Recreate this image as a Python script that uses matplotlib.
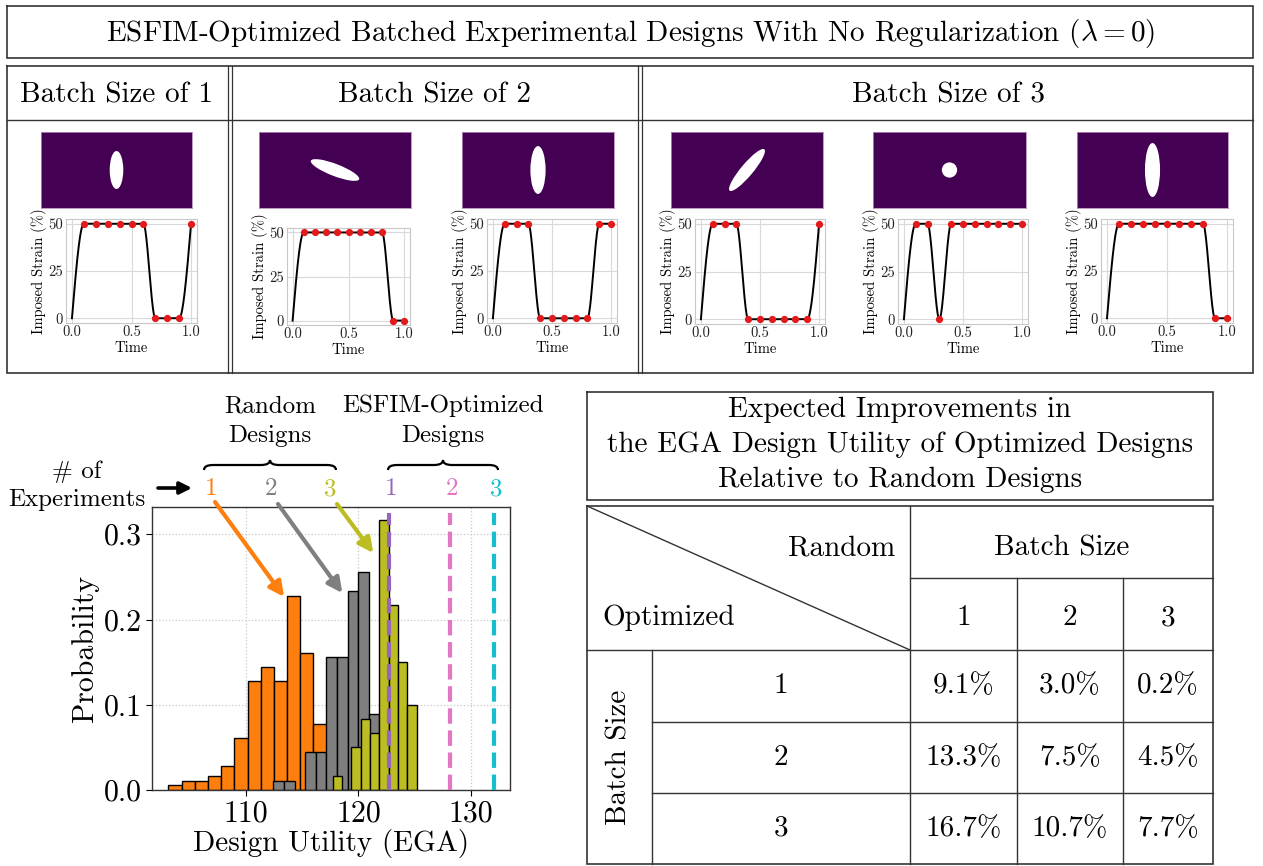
import numpy as np
import matplotlib
matplotlib.use("Agg")
import matplotlib.pyplot as plt
from matplotlib.patches import Ellipse
from matplotlib.path import Path
from matplotlib.patches import PathPatch
from matplotlib.transforms import blended_transform_factory

plt.rcParams["font.family"] = "serif"
plt.rcParams["font.serif"] = ["cmr10"]
plt.rcParams["mathtext.fontset"] = "cm"
plt.rcParams["axes.formatter.use_mathtext"] = True

# ---------------- data ----------------
batch_titles = ["Batch Size of 1", "Batch Size of 2", "Batch Size of 3"]

strain_times = [0.0, 0.1, 0.2, 0.3, 0.4, 0.5, 0.6, 0.7, 0.8, 0.9, 1.0]
strain_b1 = [0, 50, 50, 50, 50, 50, 50, 0, 0, 0, 50]
strain_b2_1 = [0, 50, 50, 50, 50, 50, 50, 50, 50, 0, 0]
strain_b2_2 = [0, 50, 50, 50, 0, 0, 0, 0, 0, 50, 50]
strain_b3_1 = [0, 50, 50, 50, 0, 0, 0, 0, 0, 0, 50]
strain_b3_2 = [0, 50, 50, 0, 50, 50, 50, 50, 50, 50, 50]
strain_b3_3 = [0, 50, 50, 50, 50, 50, 50, 50, 50, 0, 0]

# hole shape per design: (width, height, angle in degrees) on a 2 x 1 specimen
hole_b1 = (0.18, 0.50, 0)
hole_b2_1 = (0.68, 0.16, -21)
hole_b2_2 = (0.20, 0.63, 0)
hole_b3_1 = (0.71, 0.16, 50)
hole_b3_2 = (0.20, 0.20, 0)
hole_b3_3 = (0.20, 0.71, 0)

# histograms of design utility for random designs (probability per bin)
rand1_start, rand1_width = 103.16, 1.169
rand1_probs = [0.0056, 0.0111, 0.0111, 0.0167, 0.0278, 0.0611,
               0.1278, 0.1444, 0.1278, 0.2278, 0.1611, 0.0778]
rand2_start, rand2_width = 112.47, 0.939
rand2_probs = [0.0111, 0.0111, 0.0, 0.0444, 0.0444, 0.1556,
               0.1556, 0.2333, 0.2556, 0.0889]
rand3_start, rand3_width = 117.73, 0.827
rand3_probs = [0.0167, 0.0, 0.05, 0.0833, 0.0667, 0.3167,
               0.2167, 0.15, 0.1]
# utilities of the optimized designs for batch sizes 1, 2, 3
opt_utility = [122.74, 128.1, 132.0]

rand_colors = ["#ff7f0e", "#7f7f7f", "#bcbd22"]
opt_colors = ["#9467bd", "#e377c2", "#17becf"]

batch_sizes = ["1", "2", "3"]
improvement = [[9.1, 3.0, 0.2],
               [13.3, 7.5, 4.5],
               [16.7, 10.7, 7.7]]

# ---------------- figure ----------------
W, H = 1263, 866
fig = plt.figure(figsize=(W / 100, H / 100), dpi=100)
BIG = 21
MID = 18
SMALL = 10.5


def rect(x0, y0, x1, y1):
    return [x0 / W, 1 - y1 / H, (x1 - x0) / W, (y1 - y0) / H]


ov = fig.add_axes([0, 0, 1, 1], zorder=-1)
ov.set_xlim(0, W)
ov.set_ylim(H, 0)
ov.axis("off")

LC = "#333333"


def box(x0, y0, x1, y1, lw=1.2):
    ov.plot([x0, x1, x1, x0, x0], [y0, y0, y1, y1, y0], color=LC, lw=lw,
            solid_joinstyle="miter")


def hline(x0, x1, y, lw=1.0):
    ov.plot([x0, x1], [y, y], color=LC, lw=lw)


def vline(x, y0, y1, lw=1.0):
    ov.plot([x, x], [y0, y1], color=LC, lw=lw)


# title box
box(7, 6, 1253, 58)
ov.text(630, 34, r"ESFIM-Optimized Batched Experimental Designs With No Regularization ($\lambda = 0$)",
        ha="center", va="center", fontsize=BIG)

# design panel frame
box(7, 66, 1253, 373)
hline(7, 1253, 120)
for x in (227.5, 231.5, 638, 642):
    vline(x, 66, 373, lw=0.9)
for title, xc in zip(batch_titles, (117, 435, 948)):
    ov.text(xc, 95, title, ha="center", va="center", fontsize=BIG)


def pchip(x, y, xs):
    x = np.asarray(x, float)
    y = np.asarray(y, float)
    h = np.diff(x)
    delta = np.diff(y) / h
    n = len(x)
    d = np.zeros(n)
    for k in range(1, n - 1):
        if delta[k - 1] * delta[k] > 0:
            w1 = 2 * h[k] + h[k - 1]
            w2 = h[k] + 2 * h[k - 1]
            d[k] = (w1 + w2) / (w1 / delta[k - 1] + w2 / delta[k])

    def end(h0, h1, d0, d1):
        dd = ((2 * h0 + h1) * d0 - h0 * d1) / (h0 + h1)
        if np.sign(dd) != np.sign(d0):
            dd = 0.0
        elif np.sign(d0) != np.sign(d1) and abs(dd) > abs(3 * d0):
            dd = 3 * d0
        return dd

    d[0] = end(h[0], h[1], delta[0], delta[1])
    d[-1] = end(h[-1], h[-2], delta[-1], delta[-2])
    idx = np.clip(np.searchsorted(x, xs) - 1, 0, n - 2)
    t = (xs - x[idx]) / h[idx]
    h00 = 2 * t**3 - 3 * t**2 + 1
    h10 = t**3 - 2 * t**2 + t
    h01 = -2 * t**3 + 3 * t**2
    h11 = t**3 - t**2
    return (h00 * y[idx] + h10 * h[idx] * d[idx]
            + h01 * y[idx + 1] + h11 * h[idx] * d[idx + 1])


def specimen(px, hole):
    ax = fig.add_axes(rect(*px))
    ax.set_facecolor("#440154")
    ax.set_xlim(0, 2)
    ax.set_ylim(0, 1)
    ax.set_xticks([])
    ax.set_yticks([])
    for s in ax.spines.values():
        s.set_color("#b58ab8")
        s.set_linewidth(0.6)
    w, hh, ang = hole
    ax.add_patch(Ellipse((1.0, 0.5), w, hh, angle=ang, facecolor="white",
                         edgecolor="none"))


def strain_plot(px, values):
    ax = fig.add_axes(rect(*px))
    ts = np.linspace(0, 1, 400)
    ax.plot(ts, pchip(strain_times, values, ts), color="black", lw=1.4)
    ax.plot(strain_times[1:], values[1:], "o", color="#e31a1c", ms=4.2,
            zorder=3)
    ax.set_xticks([0, 0.5, 1.0])
    ax.set_yticks([0, 25, 50])
    ax.set_xticklabels(["0.0", "0.5", "1.0"])
    ax.set_yticklabels(["0", "25", "50"])
    ax.tick_params(length=0, labelsize=SMALL, pad=2, colors="#222222")
    ax.grid(color="#d9d9d9", lw=0.8)
    ax.set_axisbelow(True)
    for s in ax.spines.values():
        s.set_color("#c8c8c8")
        s.set_linewidth(0.8)
    ax.set_xlabel("Time", fontsize=SMALL, labelpad=1)
    ax.set_ylabel("Imposed Strain (%)", fontsize=SMALL, labelpad=1)


panels = [
    ((41, 132, 192, 208), hole_b1, (66, 219, 197, 323), strain_b1),
    ((259, 132, 411, 208), hole_b2_1, (287, 228, 410, 325), strain_b2_1),
    ((462, 132, 614, 208), hole_b2_2, (487, 219, 617, 323), strain_b2_2),
    ((671, 132, 823, 208), hole_b3_1, (695, 219, 825, 324), strain_b3_1),
    ((873, 132, 1026, 208), hole_b3_2, (898, 219, 1028, 324), strain_b3_2),
    ((1077, 132, 1228, 208), hole_b3_3, (1101, 219, 1233, 323), strain_b3_3),
]
for img_px, hole, plot_px, vals in panels:
    specimen(img_px, hole)
    strain_plot(plot_px, vals)

# ---------------- histogram ----------------
ax = fig.add_axes(rect(152, 507, 510, 790))
for start, width, probs, col in zip(
        (rand1_start, rand2_start, rand3_start),
        (rand1_width, rand2_width, rand3_width),
        (rand1_probs, rand2_probs, rand3_probs), rand_colors):
    lefts = start + width * np.arange(len(probs))
    ax.bar(lefts, probs, width=width, align="edge", color=col,
           edgecolor="black", linewidth=1.0)
for u, col in zip(opt_utility, opt_colors):
    ax.axvline(u, ymin=0, ymax=0.98, color=col, ls="--", lw=3, zorder=4)
ax.set_xlim(101.7, 133.45)
ax.set_ylim(0, 0.332)
ax.set_xticks([110, 120, 130])
ax.set_yticks([0, 0.1, 0.2, 0.3])
ax.set_yticklabels(["0.0", "0.1", "0.2", "0.3"])
ax.set_xticklabels(["110", "120", "130"])
ax.tick_params(labelsize=BIG + 0.5, length=4, width=0.8)
ax.grid(ls=":", color="#c8c8c8", lw=0.9)
ax.set_axisbelow(True)
for s in ax.spines.values():
    s.set_color("#333333")
    s.set_linewidth(1.0)
ax.set_xlabel("Design Utility (EGA)", fontsize=BIG, labelpad=1)
ax.set_ylabel("Probability", fontsize=BIG + 0.5, labelpad=3)

# labels above the histogram
ov.text(77, 472, "# of", ha="center", va="center", fontsize=MID)
ov.text(77, 500, "Experiments", ha="center", va="center", fontsize=MID)
ov.annotate("", xy=(192, 488), xytext=(158, 488),
            arrowprops=dict(arrowstyle="-|>", lw=2.6, color="black",
                            mutation_scale=18, shrinkA=0, shrinkB=0))
ov.text(270, 406, "Random", ha="center", va="center", fontsize=MID)
ov.text(270, 436, "Designs", ha="center", va="center", fontsize=MID)
ov.text(443, 406, "ESFIM-Optimized", ha="center", va="center", fontsize=MID)
ov.text(443, 436, "Designs", ha="center", va="center", fontsize=MID)


def brace(x0, x1, xm, yb, h):
    ym = yb - h * 0.5
    r = 9
    verts = [(x0, yb), (x0, ym), (x0 + r, ym), (xm - r, ym), (xm, ym),
             (xm, yb - h), (xm, ym), (xm + r, ym), (x1 - r, ym), (x1, ym),
             (x1, yb)]
    codes = [Path.MOVETO, Path.CURVE3, Path.CURVE3, Path.LINETO,
             Path.CURVE3, Path.CURVE3, Path.CURVE3, Path.CURVE3,
             Path.LINETO, Path.CURVE3, Path.CURVE3]
    ov.add_patch(PathPatch(Path(verts, codes), facecolor="none",
                           edgecolor="black", lw=1.6))


brace(204, 336, 270, 470, 10)
brace(388, 498, 443, 470, 10)

rand_label_x = [211, 271, 330]
for lab, xl, col in zip(batch_sizes, rand_label_x, rand_colors):
    ov.text(xl, 489, lab, ha="center", va="center", fontsize=MID, color=col)
trans = blended_transform_factory(ax.transData, ov.transData)
for lab, u, col in zip(batch_sizes, opt_utility, opt_colors):
    ax.text(u + 0.2, 489, lab, transform=trans, ha="center", va="center",
            fontsize=MID, color=col, clip_on=False)

# arrows from the random-design labels to their histograms
arrow_tips = [(113.42, 0.2265), (118.58, 0.231), (121.33, 0.278)]
arrow_tails = [(215, 502), (278, 504), (337, 504)]
for tip, tail, col in zip(arrow_tips, arrow_tails, rand_colors):
    ax.annotate("", xy=tip, xycoords="data", xytext=tail,
                textcoords=ov.transData, annotation_clip=False,
                arrowprops=dict(arrowstyle="-|>", lw=3, color=col,
                                mutation_scale=22, shrinkA=0, shrinkB=0))

# ---------------- improvement table ----------------
box(587, 392, 1213, 500)
for txt, y in zip(["Expected Improvements in",
                   "the EGA Design Utility of Optimized Designs",
                   "Relative to Random Designs"], (410, 445, 480)):
    ov.text(900, y, txt, ha="center", va="center", fontsize=BIG)

col_x = [587, 652, 910, 1017, 1123, 1213]
row_y = [506, 578, 650, 722, 793, 864]
box(col_x[0], row_y[0], col_x[-1], row_y[-1])
hline(col_x[2], col_x[-1], row_y[1])
hline(col_x[0], col_x[-1], row_y[2])
hline(col_x[1], col_x[-1], row_y[3])
hline(col_x[1], col_x[-1], row_y[4])
vline(col_x[1], row_y[2], row_y[-1])
vline(col_x[2], row_y[0], row_y[-1])
vline(col_x[3], row_y[1], row_y[-1])
vline(col_x[4], row_y[1], row_y[-1])
ov.plot([col_x[0], col_x[2]], [row_y[0], row_y[2]], color=LC, lw=1.0)

ov.text(895, 548, "Random", ha="right", va="center", fontsize=BIG)
ov.text(602, 618, "Optimized", ha="left", va="center", fontsize=BIG)
ov.text((col_x[2] + col_x[-1]) / 2, 548, "Batch Size", ha="center",
        va="center", fontsize=BIG)
ov.text((col_x[0] + col_x[1]) / 2, (row_y[2] + row_y[-1]) / 2, "Batch Size",
        ha="center", va="center", rotation=90, fontsize=BIG)
for j, lab in enumerate(batch_sizes):
    cx = (col_x[2 + j] + col_x[3 + j]) / 2
    ov.text(cx, 618, lab, ha="center", va="center", fontsize=BIG)
for i, lab in enumerate(batch_sizes):
    cy = (row_y[2 + i] + row_y[3 + i]) / 2
    ov.text((col_x[1] + col_x[2]) / 2, cy, lab, ha="center", va="center",
            fontsize=BIG)
    for j in range(3):
        cx = (col_x[2 + j] + col_x[3 + j]) / 2
        ov.text(cx, cy, f"{improvement[i][j]:.1f}%", ha="center",
                va="center", fontsize=BIG)

fig.savefig("out.png", dpi=100)
